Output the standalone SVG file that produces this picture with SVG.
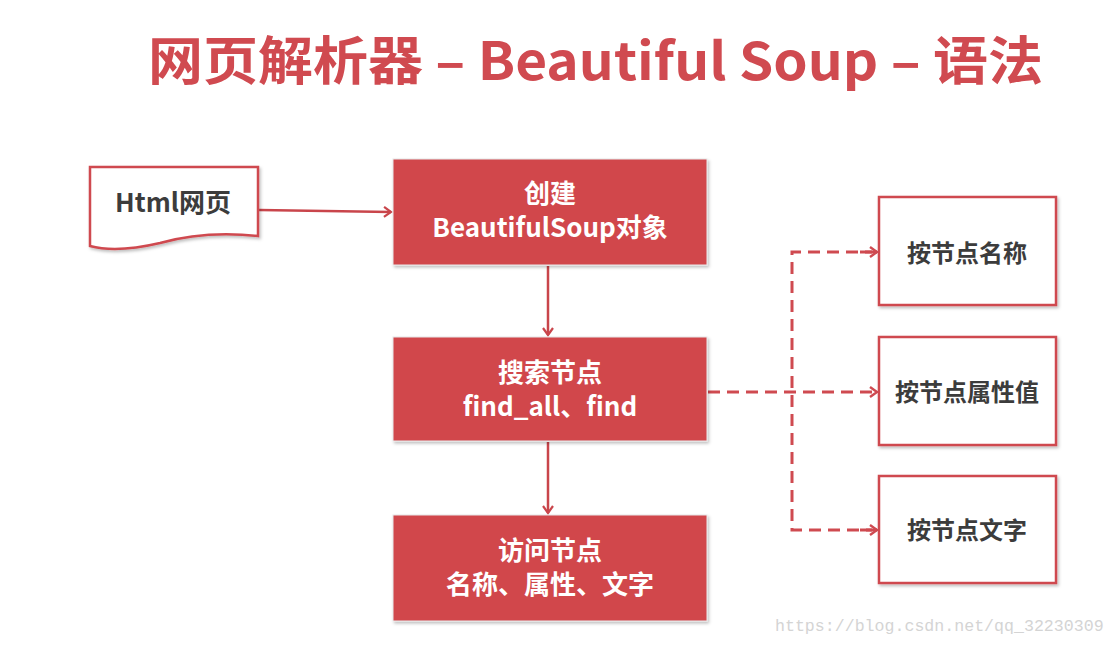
<svg xmlns="http://www.w3.org/2000/svg" width="1115" height="645" viewBox="0 0 1115 645">
<defs>
<style>
.title{font-family:"Noto Sans CJK SC","Noto Sans",sans-serif;font-weight:bold;font-size:52px;fill:#d04a50}
.red{fill:#d1474c;stroke:#e8e8e8;stroke-width:1}
.wbox{fill:#ffffff;stroke:#cf4a50;stroke-width:2.5}
.wt{font-family:"Noto Sans CJK SC","Noto Sans",sans-serif;font-weight:bold;font-size:26px;fill:#ffffff;text-anchor:middle}
.dt{font-family:"Noto Sans CJK SC","Noto Sans",sans-serif;font-weight:bold;font-size:24px;fill:#3c3c3c;text-anchor:middle}
.solid{fill:none;stroke:#c9454b;stroke-width:2.5}
.dash{fill:none;stroke:#cf4a50;stroke-width:3;stroke-dasharray:12 7}
.wm{font-family:"Liberation Mono",monospace;font-size:16.6px;fill:#d4d4d4}
</style>
<filter id="sh" x="-10%" y="-10%" width="130%" height="130%">
<feDropShadow dx="1.5" dy="2" stdDeviation="1.5" flood-color="#000" flood-opacity="0.25"/>
</filter>
<marker id="ah" markerWidth="12" markerHeight="12" refX="9" refY="6" orient="auto" markerUnits="userSpaceOnUse">
<path d="M2,1 L9,6 L2,11" fill="none" stroke="#c9454b" stroke-width="2.2"/>
</marker>
<marker id="ahd" markerWidth="12" markerHeight="12" refX="9" refY="6" orient="auto" markerUnits="userSpaceOnUse">
<path d="M2,1 L9,6 L2,11" fill="none" stroke="#cf4a50" stroke-width="2.4"/>
</marker>
</defs>
<rect width="1115" height="645" fill="#ffffff"/>
<text class="title" x="148" y="80" textLength="895" lengthAdjust="spacingAndGlyphs">网页解析器 – Beautiful Soup – 语法</text>

<g id="connectors">
<line class="solid" x1="259" y1="210" x2="391" y2="212" marker-end="url(#ah)"/>
<line class="solid" x1="548" y1="266" x2="548" y2="335" marker-end="url(#ah)"/>
<line class="solid" x1="548" y1="442" x2="548" y2="513" marker-end="url(#ah)"/>
<line class="dash" x1="708" y1="392" x2="877" y2="392" marker-end="url(#ahd)"/>
<path class="dash" d="M877,252 L792,252 L792,530 L877,530"/>
<line class="dash" x1="860" y1="252" x2="877" y2="252" marker-end="url(#ahd)"/>
<line class="dash" x1="860" y1="530" x2="877" y2="530" marker-end="url(#ahd)"/>
</g>

<g id="html">
<path class="wbox" filter="url(#sh)" d="M90,167 L258,167 L258,236 C220,232 185,236 160,243 C130,250 105,250 90,246 Z"/>
<text class="dt" x="173" y="212" style="font-size:26px">Html网页</text>
</g>

<g id="create">
<rect class="red" filter="url(#sh)" x="393" y="159" width="314" height="106"/>
<text class="wt" x="550" y="203">创建</text>
<text class="wt" x="550" y="237">BeautifulSoup对象</text>
</g>

<g id="search">
<rect class="red" filter="url(#sh)" x="393" y="337" width="314" height="104"/>
<text class="wt" x="550" y="382">搜索节点</text>
<text class="wt" x="550" y="416">find_all、find</text>
</g>

<g id="visit">
<rect class="red" filter="url(#sh)" x="393" y="515" width="314" height="106"/>
<text class="wt" x="550" y="560">访问节点</text>
<text class="wt" x="550" y="594">名称、属性、文字</text>
</g>

<g id="byname">
<rect class="wbox" filter="url(#sh)" x="879" y="197" width="177" height="108"/>
<text class="dt" x="967" y="262">按节点名称</text>
</g>

<g id="byattr">
<rect class="wbox" filter="url(#sh)" x="879" y="337" width="177" height="108"/>
<text class="dt" x="967" y="401">按节点属性值</text>
</g>

<g id="bytext">
<rect class="wbox" filter="url(#sh)" x="879" y="476" width="177" height="107"/>
<text class="dt" x="967" y="539">按节点文字</text>
</g>

<text class="wm" x="775" y="631">https://blog.csdn.net/qq_32230309</text>
</svg>
